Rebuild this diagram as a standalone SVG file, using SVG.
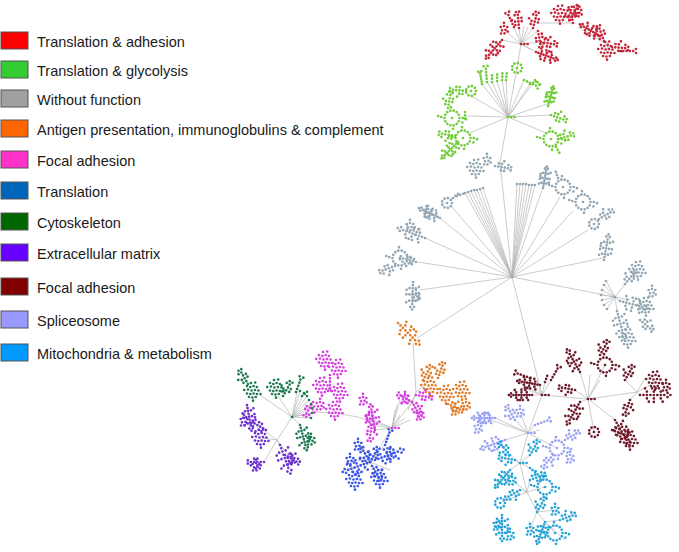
<svg xmlns="http://www.w3.org/2000/svg" xmlns:xlink="http://www.w3.org/1999/xlink" width="679" height="552" viewBox="0 0 679 552">
<style>
.lg rect{stroke:#555;stroke-width:1}
.lg text{font-family:"Liberation Sans",Arial,sans-serif;font-size:14.5px;fill:#1a1a1a}
#connectors path{fill:none;stroke:#b5b5b5;stroke-width:0.7}
</style>
<defs>
<path id="t1" fill="none" stroke="currentColor" stroke-width="2.7" stroke-linecap="round" vector-effect="non-scaling-stroke" d="M0 0h0M3.3 0h0M6.6 0h0M9.9 0h0M13.2 0h0M16.5 0h0M19.8 0h0M23.1 0h0M6.6 3.3h0M6.6 -3.3h0M8.4 6.4h0M4.8 -6.4h0M13.2 3.3h0M13.2 -3.3h0M11.4 -6.4h0M15 -6.4h0M13.2 6.6h0M19.8 3.3h0M19.8 -3.3h0M21.6 6.4h0M18 -6.4h0M26.2 2h0M26.2 -2h0M29 0h0"/>
<path id="t2" fill="none" stroke="currentColor" stroke-width="2.7" stroke-linecap="round" vector-effect="non-scaling-stroke" d="M0 0h0M3.3 0h0M6.6 0h0M9.9 0h0M13.2 0h0M6.6 3.3h0M6.6 -3.3h0M8.4 -6.4h0M9.9 3.3h0M13.2 -3.3h0M16.2 1.6h0M16.2 -1.6h0M3.3 -3.3h0"/>
<path id="s" fill="none" stroke="currentColor" stroke-width="2.7" stroke-linecap="round" vector-effect="non-scaling-stroke" d="M0 0h0M3.3 0h0M6.6 0h0M9.9 0h0M13.2 0h0M16 2h0M16 -2h0"/>
<path id="s3" fill="none" stroke="currentColor" stroke-width="2.7" stroke-linecap="round" vector-effect="non-scaling-stroke" d="M0 0h0M3.3 0h0M6.6 0h0"/>
<path id="r" fill="none" stroke="currentColor" stroke-width="2.7" stroke-linecap="round" vector-effect="non-scaling-stroke" d="M7.5 0h0M6.76 3.25h0M4.68 5.86h0M1.67 7.31h0M-1.67 7.31h0M-4.68 5.86h0M-6.76 3.25h0M-7.5 0h0M-6.76 -3.25h0M-4.68 -5.86h0M-1.67 -7.31h0M1.67 -7.31h0M4.68 -5.86h0M6.76 -3.25h0M0 0h0M10.8 0h0M14 1.2h0M10.4 4.5h0M-10.8 -1h0M-1 -10.8h0M1 10.8h0M-13.8 -2h0"/>
<path id="rs" fill="none" stroke="currentColor" stroke-width="2.7" stroke-linecap="round" vector-effect="non-scaling-stroke" d="M5 0h0M3.83 3.21h0M0.87 4.92h0M-2.5 4.33h0M-4.7 1.71h0M-4.7 -1.71h0M-2.5 -4.33h0M0.87 -4.92h0M3.83 -3.21h0M0 0h0"/>
<path id="b" fill="none" stroke="currentColor" stroke-width="2.7" stroke-linecap="round" vector-effect="non-scaling-stroke" d="M-6 -5h0M-2.7 -4h0M0.6 -5h0M3.9 -4h0M-5 -1.5h0M-1.5 -0.5h0M2 -1h0M5.5 -0.5h0M-6 2.5h0M-2.7 3h0M0.6 2.5h0M4 3h0M-4 6h0M-0.6 6.5h0M2.8 6h0M-2 -8h0M2.2 -8.5h0M-8.8 -1h0M7.5 3h0M0 9.7h0"/>
<path id="bs" fill="none" stroke="currentColor" stroke-width="2.7" stroke-linecap="round" vector-effect="non-scaling-stroke" d="M-3.3 -2h0M0 -3h0M3.3 -2h0M-2 1.3h0M1.5 0.8h0M-3 4.5h0M0.5 4.3h0M3.8 2.5h0M0 -6.2h0"/>
</defs>
<rect width="679" height="552" fill="#fff"/>

<g id="legend" class="lg">
<g id="legend-1"><rect x="1" y="32" width="27" height="17" fill="#ff0000"/><text x="37" y="47">Translation &amp; adhesion</text></g>
<g id="legend-2"><rect x="1" y="61" width="27" height="17" fill="#33cc33"/><text x="37" y="76">Translation &amp; glycolysis</text></g>
<g id="legend-3"><rect x="1" y="90" width="27" height="17" fill="#a0a0a0"/><text x="37" y="105">Without function</text></g>
<g id="legend-4"><rect x="1" y="120" width="27" height="17" fill="#ff6600"/><text x="37" y="135">Antigen presentation, immunoglobulins &amp; complement</text></g>
<g id="legend-5"><rect x="1" y="151" width="27" height="17" fill="#ff33cc"/><text x="37" y="166">Focal adhesion</text></g>
<g id="legend-6"><rect x="1" y="182" width="27" height="17" fill="#0066bb"/><text x="37" y="197">Translation</text></g>
<g id="legend-7"><rect x="1" y="213" width="27" height="17" fill="#006600"/><text x="37" y="228">Cytoskeleton</text></g>
<g id="legend-8"><rect x="1" y="244" width="27" height="17" fill="#6600ff"/><text x="37" y="259">Extracellular matrix</text></g>
<g id="legend-9"><rect x="1" y="278" width="27" height="17" fill="#800000"/><text x="37" y="293">Focal adhesion</text></g>
<g id="legend-10"><rect x="1" y="311" width="27" height="17" fill="#9999ff"/><text x="37" y="326">Spliceosome</text></g>
<g id="legend-11"><rect x="1" y="344" width="27" height="17" fill="#0099ff"/><text x="37" y="359">Mitochondria &amp; metabolism</text></g>
</g>

<g id="connectors">
<path d="M521 44L517 68L508 117L500 163L512 277M540 23L573 23M578 27L605 43M512 277L417 338M413 343L416 392L412 402L392 428L358 417L340 414L317 412L292 417L277 440M392 428L370 462M512 277L542 395L588 399L637 392M542 395L528 433L520 463L527 492L537 512L545 522M416 392L425 385"/>
<path d="M521 44L504 30M521 44L502 40M521 44L519 28M521 44L514 27M521 44L524 26M521 44L528 27M521 44L533 28M521 44L538 31M521 44L541 42M521 44L536 52M521 44L532 50M608 43L600 36M608 43L604 41M608 43L607 50M608 43L612 47M608 43L611 55"/>
<path d="M508 117L482 84M508 117L487 82M508 117L492 82M508 117L497 81M508 117L502 80M508 117L506 80M508 117L524 80M508 117L530 84M508 117L535 80M508 117L471 96M508 117L465 116M508 117L470 133M508 117L547 104M508 117L551 115M508 117L546 133"/>
<path d="M512 277L465 193M512 277L468 192M512 277L471 191M512 277L474 190M512 277L477 190M512 277L480 189M512 277L483 188M512 277L517 184M512 277L520 184M512 277L523 184M512 277L526 184M512 277L529 185M512 277L532 185M512 277L535 185M512 277L543 187M512 277L560 197M512 277L573 211M512 277L588 230M512 277L603 258M512 277L615 297M512 277L440 218M512 277L452 207M512 277L425 238M512 277L418 262M512 277L420 290"/>
<path d="M615 297L625 284M615 297L620 301M615 297L617 311M615 297L630 300M615 297L604 285M615 297L602 290M615 297L601 295M615 297L602 300M615 297L604 305M615 297L607 309M615 297L606 281"/>
<path d="M292 417L260 395M292 417L278 396M292 417L297 392M292 417L300 391M292 417L304 393M292 417L307 396M292 417L309 400M292 417L311 404M292 417L312 408M292 417L312 413M292 417L311 418M292 417L300 425M277 440L250 420M277 440L262 438M277 440L265 460M277 440L280 445M277 440L288 455"/>
<path d="M392 428L375 430M392 428L372 425M392 428L369 418M392 428L400 400M392 428L397 405M392 428L395 410M392 428L400 415M392 428L405 418M392 428L410 420M412 402L405 398M412 402L416 395M412 402L420 415M412 402L408 410M412 402L402 395"/>
<path d="M370 462L360 446M370 462L380 448M370 462L395 453M370 462L345 470M370 462L355 480M370 462L380 478M370 462L390 470M370 462L385 445M370 462L352 460M370 462L358 445"/>
<path d="M542 395L518 382M542 395L528 378M542 395L532 395M542 395L545 382M542 395L551 380M542 395L522 388M542 395L537 380M588 399L580 372M588 399L605 365M588 399L575 390M588 399L580 402M588 399L594 432M588 399L615 420M588 399L600 380M588 399L590 375M637 392L625 380M637 392L650 385M637 392L640 395M637 392L630 400M637 392L645 378"/>
<path d="M528 433L485 418M528 433L495 418M528 433L515 420M528 433L520 412M528 433L535 425M528 433L505 440M528 433L557 448M528 433L540 430M520 463L510 455M520 463L515 460M520 463L530 455M520 463L510 470M520 463L530 468M527 492L545 487M527 492L520 490M527 492L512 480M527 492L530 480M527 492L500 503M537 512L537 505M537 512L555 510M537 512L530 530M545 522L555 533M545 522L560 520M545 522L565 540"/>
</g>

<g id="cluster-translation-adhesion" color="#c4263a">
<use href="#bs" transform="translate(504,29)"/>
<use href="#t1" transform="translate(502,40) rotate(131) scale(.85)"/>
<use href="#t2" transform="translate(519,28) rotate(-95)"/>
<use href="#s" transform="translate(514,27) rotate(-115)"/>
<use href="#t2" transform="translate(533,28) rotate(-75)"/>
<use href="#t2" transform="translate(538,31) rotate(80)"/>
<use href="#t2" transform="translate(541,42) rotate(10)"/>
<use href="#t1" transform="translate(536,52) rotate(20) scale(.8)"/>
<use href="#s3" transform="translate(521,44) rotate(0)"/>
<use href="#b" transform="translate(560,14)"/>
<use href="#t2" transform="translate(573,23) rotate(-100)"/>
<use href="#t2" transform="translate(570,20) rotate(-60)"/>
<use href="#bs" transform="translate(578,12)"/>
<use href="#t1" transform="translate(600,36) rotate(-150) scale(.8)"/>
<use href="#b" transform="translate(607,50)"/>
<use href="#t2" transform="translate(612,47) rotate(5)"/>
<use href="#s" transform="translate(620,51) rotate(0)"/>
<use href="#t2" transform="translate(604,41) rotate(-110)"/>
</g>

<g id="cluster-translation-glycolysis" color="#72cc3a">
<use href="#rs" transform="translate(517,68)"/>
<use href="#s" transform="translate(482,84) rotate(-100) scale(.8)"/>
<use href="#s" transform="translate(487,82) rotate(-95)"/>
<use href="#s3" transform="translate(492,82) rotate(-90)"/>
<use href="#s3" transform="translate(497,81) rotate(-88)"/>
<use href="#s3" transform="translate(502,80) rotate(-86)"/>
<use href="#s3" transform="translate(506,80) rotate(-84)"/>
<use href="#s" transform="translate(524,80) rotate(25)"/>
<use href="#s3" transform="translate(530,84) rotate(-20)"/>
<use href="#s3" transform="translate(535,80) rotate(40)"/>
<use href="#rs" transform="translate(471,91)"/>
<use href="#t2" transform="translate(466,91) rotate(185)"/>
<use href="#r" transform="translate(452,118)"/>
<use href="#t2" transform="translate(448,108) rotate(-80)"/>
<use href="#s3" transform="translate(465,112) rotate(90)"/>
<use href="#r" transform="translate(463,138)"/>
<use href="#t1" transform="translate(458,142) rotate(135) scale(.8)"/>
<use href="#t2" transform="translate(455,136) rotate(190)"/>
<use href="#t1" transform="translate(548,106) rotate(-75) scale(.7)"/>
<use href="#t2" transform="translate(551,115) rotate(20)"/>
<use href="#r" transform="translate(551,139)"/>
<use href="#t2" transform="translate(558,139) rotate(-15)"/>
<use href="#s3" transform="translate(556,147) rotate(60)"/>
<use href="#s3" transform="translate(508,117) rotate(0)"/>
</g>

<g id="cluster-without-function" color="#93a6b3">
<use href="#b" transform="translate(476,168)"/>
<use href="#bs" transform="translate(487,160)"/>
<use href="#t2" transform="translate(495,166) rotate(10)"/>
<path fill="none" stroke="currentColor" stroke-width="2.7" stroke-linecap="round" d="M465 193h0M468 192h0M471 191h0M474 190h0M477 190h0M480 189h0M483 188h0M517 184h0M520 184h0M523 184h0M526 184h0M529 185h0M532 185h0M535 185h0M512 277h0M615 297h0M604 285h0M602 290h0M601 295h0M602 300h0M604 305h0M607 309h0M606 281h0"/>
<use href="#rs" transform="translate(447,203)"/>
<use href="#s3" transform="translate(453,198) rotate(-40)"/>
<use href="#s3" transform="translate(457,196) rotate(-20)"/>
<use href="#t1" transform="translate(543,188) rotate(-80) scale(.75)"/>
<use href="#r" transform="translate(563,187)"/>
<use href="#s3" transform="translate(558,178) rotate(-110)"/>
<use href="#r" transform="translate(583,202)"/>
<use href="#rs" transform="translate(594,224)"/>
<use href="#t2" transform="translate(599,219) rotate(-30)"/>
<use href="#t1" transform="translate(604,260) rotate(-80) scale(.9)"/>
<use href="#b" transform="translate(638,270)"/>
<use href="#t2" transform="translate(625,284) rotate(-50)"/>
<use href="#t1" transform="translate(620,301) rotate(15)"/>
<use href="#b" transform="translate(646,306)"/>
<use href="#t1" transform="translate(617,311) rotate(75)"/>
<use href="#b" transform="translate(628,338)"/>
<use href="#bs" transform="translate(652,292)"/>
<use href="#t2" transform="translate(640,320) rotate(40)"/>
<use href="#t1" transform="translate(440,218) rotate(-155) scale(.8)"/>
<use href="#bs" transform="translate(428,212)"/>
<use href="#t1" transform="translate(425,238) rotate(-160)"/>
<use href="#s3" transform="translate(415,235) rotate(-60)"/>
<use href="#bs" transform="translate(410,226)"/>
<use href="#r" transform="translate(400,258)"/>
<use href="#t2" transform="translate(416,262) rotate(195)"/>
<use href="#t2" transform="translate(395,266) rotate(160)"/>
<use href="#t1" transform="translate(413,282) rotate(92) scale(.95)"/>
<use href="#bs" transform="translate(416,296)"/>
</g>

<g id="cluster-antigen" color="#e07b28">
<use href="#t1" transform="translate(398,323) rotate(45) scale(1.05)"/>
<use href="#b" transform="translate(430,386)"/>
<use href="#b" transform="translate(446,394)"/>
<use href="#b" transform="translate(462,390)"/>
<use href="#t2" transform="translate(423,380) rotate(-60)"/>
<use href="#t2" transform="translate(448,404) rotate(25)"/>
<use href="#bs" transform="translate(466,405)"/>
<use href="#t2" transform="translate(438,378) rotate(-70)"/>
<use href="#bs" transform="translate(455,410)"/>
</g>

<g id="cluster-focal-adhesion-1" color="#d540e0">
<use href="#t2" transform="translate(412,402) rotate(-150)"/>
<use href="#t2" transform="translate(412,402) rotate(60)"/>
<use href="#bs" transform="translate(405,398)"/>
<use href="#bs" transform="translate(420,415)"/>
<use href="#t2" transform="translate(416,395) rotate(10)"/>
<use href="#t1" transform="translate(375,430) rotate(-100) scale(.9)"/>
<use href="#t2" transform="translate(372,425) rotate(100)"/>
<use href="#bs" transform="translate(369,418)"/>
<use href="#bs" transform="translate(363,400)"/>
<use href="#b" transform="translate(325,360)"/>
<use href="#b" transform="translate(338,368)"/>
<use href="#s" transform="translate(330,375) rotate(90)"/>
<use href="#b" transform="translate(322,386)"/>
<use href="#b" transform="translate(340,392)"/>
<use href="#b" transform="translate(335,410)"/>
<use href="#bs" transform="translate(320,405)"/>
<use href="#t2" transform="translate(313,402) rotate(120)"/>
<use href="#s3" transform="translate(392,428) rotate(0)"/>
</g>

<g id="cluster-cytoskeleton" color="#1f7a52">
<use href="#b" transform="translate(253,391)"/>
<use href="#t2" transform="translate(248,384) rotate(-120)"/>
<use href="#b" transform="translate(276,388)"/>
<use href="#t2" transform="translate(283,396) rotate(-60)"/>
<use href="#s" transform="translate(296,392) rotate(-70)"/>
<use href="#s3" transform="translate(302,396) rotate(-40)"/>
<path fill="none" stroke="currentColor" stroke-width="2.7" stroke-linecap="round" d="M292 417h0M300 391h0M304 393h0M307 396h0M309 400h0M311 404h0M312 408h0M312 413h0M311 418h0"/>
<use href="#t1" transform="translate(300,425) rotate(75) scale(.9)"/>
<use href="#bs" transform="translate(311,440)"/>
</g>

<g id="cluster-extracellular-matrix" color="#6c33cc">
<use href="#t1" transform="translate(247,405) rotate(80) scale(.9)"/>
<use href="#bs" transform="translate(244,421)"/>
<use href="#b" transform="translate(261,438)"/>
<use href="#t2" transform="translate(266,430) rotate(-150)"/>
<use href="#t2" transform="translate(264,462) rotate(180)"/>
<use href="#bs" transform="translate(256,466)"/>
<use href="#t1" transform="translate(280,445) rotate(70) scale(1.05)"/>
<use href="#bs" transform="translate(291,460)"/>
<use href="#t2" transform="translate(285,455) rotate(30)"/>
</g>

<g id="cluster-translation" color="#3b55e8">
<use href="#t2" transform="translate(370,462) rotate(-120)"/>
<use href="#t2" transform="translate(370,462) rotate(-60)"/>
<use href="#t1" transform="translate(375,460) rotate(-20) scale(1.05)"/>
<use href="#t1" transform="translate(370,462) rotate(160)"/>
<use href="#b" transform="translate(355,480)"/>
<use href="#b" transform="translate(380,478)"/>
<use href="#t2" transform="translate(372,466) rotate(60)"/>
<use href="#bs" transform="translate(390,455)"/>
<use href="#s" transform="translate(385,445) rotate(-70)"/>
<use href="#bs" transform="translate(350,460)"/>
<use href="#bs" transform="translate(358,445)"/>
</g>

<g id="cluster-focal-adhesion-2" color="#6e1c2c">
<use href="#t1" transform="translate(540,385) rotate(-170) scale(.8)"/>
<use href="#s" transform="translate(530,378) rotate(-160)"/>
<use href="#t1" transform="translate(532,395) rotate(180) scale(.8)"/>
<use href="#s3" transform="translate(545,382) rotate(-70)"/>
<use href="#s" transform="translate(551,380) rotate(-60)"/>
<use href="#t1" transform="translate(580,372) rotate(-120) scale(.9)"/>
<use href="#r" transform="translate(605,365)"/>
<use href="#t2" transform="translate(600,355) rotate(-60)"/>
<use href="#t2" transform="translate(575,390) rotate(-170)"/>
<use href="#t1" transform="translate(580,402) rotate(120) scale(.9)"/>
<use href="#rs" transform="translate(594,432)"/>
<use href="#t1" transform="translate(615,420) rotate(60)"/>
<use href="#b" transform="translate(630,440)"/>
<use href="#t2" transform="translate(612,430) rotate(20)"/>
<use href="#t2" transform="translate(625,380) rotate(-60)"/>
<use href="#b" transform="translate(655,380)"/>
<use href="#bs" transform="translate(666,386)"/>
<use href="#t1" transform="translate(640,395) rotate(0) scale(1.05)"/>
<use href="#t2" transform="translate(630,400) rotate(110)"/>
<use href="#s3" transform="translate(542,395) rotate(0)"/>
<use href="#s3" transform="translate(588,399) rotate(0)"/>
</g>

<g id="cluster-spliceosome" color="#9aa3f2">
<use href="#rs" transform="translate(485,418)"/>
<use href="#t1" transform="translate(495,418) rotate(180) scale(.8)"/>
<use href="#bs" transform="translate(478,428)"/>
<use href="#t2" transform="translate(515,420) rotate(-120)"/>
<use href="#bs" transform="translate(520,412)"/>
<use href="#s" transform="translate(535,425) rotate(-20)"/>
<use href="#t1" transform="translate(505,440) rotate(160) scale(.9)"/>
<use href="#r" transform="translate(557,448)"/>
<use href="#t2" transform="translate(565,440) rotate(-30)"/>
<use href="#bs" transform="translate(570,458)"/>
<use href="#t2" transform="translate(553,455) rotate(130)"/>
<use href="#s3" transform="translate(528,433) rotate(0)"/>
</g>

<g id="cluster-mitochondria" color="#27a3d5">
<use href="#t2" transform="translate(515,460) rotate(-170)"/>
<use href="#t2" transform="translate(530,455) rotate(-60)"/>
<use href="#t1" transform="translate(510,470) rotate(130) scale(.8)"/>
<use href="#s" transform="translate(530,468) rotate(40)"/>
<use href="#t2" transform="translate(510,455) rotate(-130)"/>
<use href="#r" transform="translate(545,487)"/>
<use href="#t2" transform="translate(520,490) rotate(150)"/>
<use href="#bs" transform="translate(512,480)"/>
<use href="#t2" transform="translate(530,480) rotate(-20)"/>
<use href="#rs" transform="translate(500,503)"/>
<use href="#t1" transform="translate(502,515) rotate(90) scale(.9)"/>
<use href="#bs" transform="translate(510,535)"/>
<use href="#bs" transform="translate(497,525)"/>
<use href="#t2" transform="translate(537,512) rotate(-60)"/>
<use href="#bs" transform="translate(555,510)"/>
<use href="#r" transform="translate(555,533)"/>
<use href="#t1" transform="translate(545,522) rotate(110) scale(.8)"/>
<use href="#bs" transform="translate(530,530)"/>
<use href="#t2" transform="translate(560,520) rotate(-20)"/>
<use href="#s3" transform="translate(520,463) rotate(0)"/>
</g>
</svg>
